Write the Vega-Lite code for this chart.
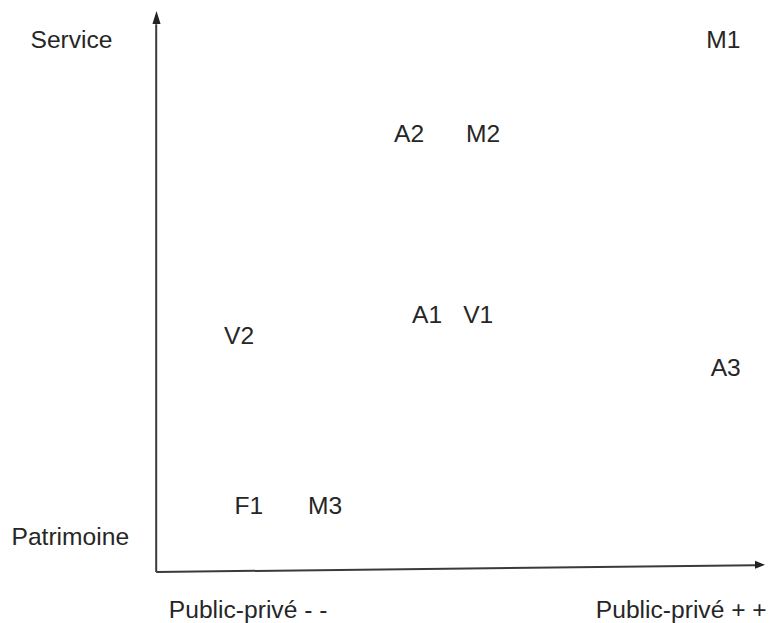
{
  "$schema": "https://vega.github.io/schema/vega-lite/v6.json",
  "width": 769,
  "height": 623,
  "autosize": "none",
  "padding": 0,
  "background": "white",
  "config": {"view": {"stroke": null}},
  "datasets": {
    "points": [
      {"label": "M1", "x": 9.44, "y": 9.53},
      {"label": "A2", "x": 4.21, "y": 7.81},
      {"label": "M2", "x": 5.44, "y": 7.81},
      {"label": "A1", "x": 4.51, "y": 4.52},
      {"label": "V1", "x": 5.36, "y": 4.52},
      {"label": "V2", "x": 1.38, "y": 4.13},
      {"label": "A3", "x": 9.48, "y": 3.55},
      {"label": "F1", "x": 1.54, "y": 1.04},
      {"label": "M3", "x": 2.81, "y": 1.04}
    ],
    "axisLabels": [
      {"label": "Service", "x": -1.41, "y": 9.53},
      {"label": "Patrimoine", "x": -1.43, "y": 0.47},
      {"label": "Public-privé - -", "x": 1.53, "y": -0.86},
      {"label": "Public-privé + +", "x": 8.74, "y": -0.86}
    ],
    "axisLines": [
      {"name": "vertical", "x": 0, "y": -0.02, "x2": 0, "y2": 9.96},
      {"name": "horizontal", "x": 0, "y": -0.02, "x2": 9.97, "y2": 0.10}
    ],
    "arrowUp": [{"x": 0.005, "y": 10.08}],
    "arrowRight": [{"x": 10.05, "y": 0.11}]
  },
  "layer": [
    {
      "data": {"name": "axisLines"},
      "mark": {"type": "rule", "color": "#3a3a3a", "strokeWidth": 2},
      "encoding": {
        "x": {"field": "x", "type": "quantitative", "scale": {"domain": [-2.6, 10.2], "nice": false, "zero": false}, "axis": null},
        "y": {"field": "y", "type": "quantitative", "scale": {"domain": [-0.95, 10.4], "nice": false, "zero": false}, "axis": null},
        "x2": {"field": "x2"},
        "y2": {"field": "y2"}
      }
    },
    {
      "data": {"name": "arrowUp"},
      "mark": {"type": "point", "shape": "M0,-1L0.62,1L-0.62,1Z", "size": 169, "filled": true, "color": "#222222", "opacity": 1},
      "encoding": {
        "x": {"field": "x", "type": "quantitative"},
        "y": {"field": "y", "type": "quantitative"}
      }
    },
    {
      "data": {"name": "arrowRight"},
      "mark": {"type": "point", "shape": "M1,0L-1,-0.8L-1,0.8Z", "size": 100, "filled": true, "color": "#222222", "opacity": 1},
      "encoding": {
        "x": {"field": "x", "type": "quantitative"},
        "y": {"field": "y", "type": "quantitative"}
      }
    },
    {
      "data": {"name": "points"},
      "mark": {"type": "text", "font": "Liberation Sans", "fontSize": 24.6, "align": "center", "baseline": "alphabetic", "color": "#262626"},
      "encoding": {
        "x": {"field": "x", "type": "quantitative"},
        "y": {"field": "y", "type": "quantitative"},
        "text": {"field": "label"}
      }
    },
    {
      "data": {"name": "axisLabels"},
      "mark": {"type": "text", "font": "Liberation Sans", "fontSize": 24.6, "align": "center", "baseline": "alphabetic", "color": "#262626"},
      "encoding": {
        "x": {"field": "x", "type": "quantitative"},
        "y": {"field": "y", "type": "quantitative"},
        "text": {"field": "label"}
      }
    }
  ]
}
